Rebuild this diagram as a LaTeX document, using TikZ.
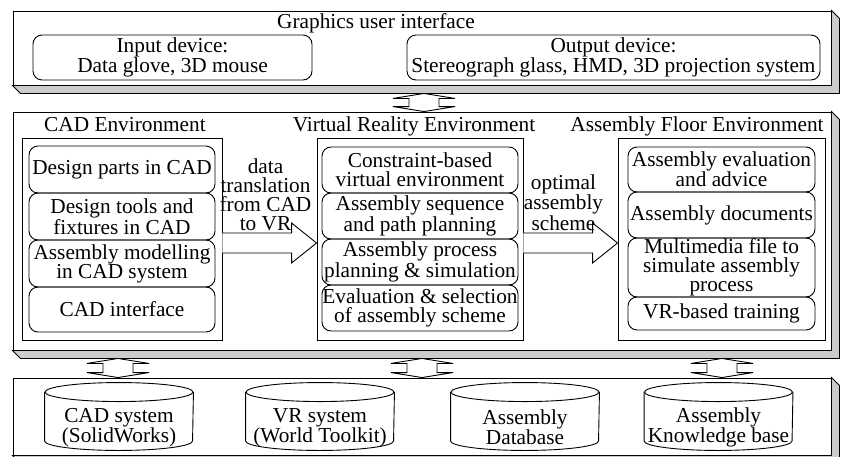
\documentclass[tikz,border=0pt]{standalone}
\usepackage{fontspec}
\setmainfont{Liberation Serif}
\usetikzlibrary{calc}

\tikzset{
  panel/.style={draw,fill=white,minimum width=818pt,inner sep=0pt},
  sideface/.style={draw,fill=gray!40},
  envbox/.style={draw,inner sep=0pt},
  item/.style={draw,rounded corners=9pt,align=center,inner sep=0pt},
  caption/.style={anchor=base,inner sep=0pt},
  arrowlbl/.style={align=center,inner sep=0pt,anchor=south},
  blockarr/.style={draw,fill=white},
  database/.style={minimum width=148pt,minimum height=67pt,inner sep=0pt},
  dbtext/.style={align=center,inner sep=0pt}
}

\newcommand{\sideof}[1]{\draw[sideface] (#1.north east) -- ++(8,8) -- ($(#1.south east)+(8,8)$) -- ($(#1.south west)+(8,8)$) -- (#1.south west) -- (#1.south east) -- cycle;}
\newcommand{\hblock}[2]{\draw[blockarr] ($(#1)+(0,-10)$) -- ($(#2)+(-25,-10)$) -- ($(#2)+(-25,-20)$) -- (#2) -- ($(#2)+(-25,20)$) -- ($(#2)+(-25,10)$) -- ($(#1)+(0,10)$);}
\newcommand{\vblock}[2]{\draw[blockarr] (#1) -- ($(#1)+(31,5)$) -- ($(#1)+(15,5)$) -- ($(#2)+(15,-5)$) -- ($(#2)+(31,-5)$) -- (#2) -- ($(#2)+(-31,-5)$) -- ($(#2)+(-15,-5)$) -- ($(#1)+(-15,5)$) -- ($(#1)+(-31,5)$) -- cycle;}
\newcommand{\drum}[1]{\draw ($(#1.north)+(0,9.5)$) ellipse [x radius=74,y radius=9.5];
  \draw ($(#1.north west)+(0,9.5)$) -- ($(#1.south west)+(0,-9.5)$) arc [start angle=180,end angle=0,x radius=74,y radius=9.5] -- ($(#1.north east)+(0,9.5)$);}

\begin{document}
\begin{tikzpicture}[x=1pt,y=-1pt,line width=0.9pt,font=\fontsize{21.3}{19}\selectfont]
\useasboundingbox (0,0) rectangle (841,456);

\node[panel,minimum height=74pt] (gui) at (422,48) {};
\sideof{gui}
\node[caption] (guititle) at (376,28) {Graphics user interface};
\node[item,minimum width=279pt,minimum height=45pt] (input) at (172.5,57.5) {Input device:\\Data glove, 3D mouse};
\node[item,minimum width=413pt,minimum height=45pt] (output) at (613.5,57.5) {Output device:\\Stereograph glass, HMD, 3D projection system};

\node[panel,minimum height=238pt] (main) at (422,231) {};
\sideof{main}
\node[caption] (cadtitle) at (125,131) {CAD Environment};
\node[caption] (vrtitle) at (414,131) {Virtual Reality Environment};
\node[caption] (aftitle) at (697,131) {Assembly Floor Environment};

\node[envbox,minimum width=200pt,minimum height=202pt] (cad) at (122,239) {};
\node[item,minimum width=186pt,minimum height=47pt] (cad1) at (122,169.5) {Design parts in CAD};
\node[item,minimum width=186pt,minimum height=47pt] (cad2) at (122,216.5) {Design tools and\\fixtures in CAD};
\node[item,minimum width=186pt,minimum height=47pt] (cad3) at (122,263.5) {Assembly modelling\\in CAD system};
\node[item,minimum width=186pt,minimum height=45pt] (cad4) at (122,309.5) {CAD interface};

\node[envbox,minimum width=206pt,minimum height=202pt] (vr) at (420,239) {};
\node[item,minimum width=196pt,minimum height=46pt] (vr1) at (420,170) {Constraint-based\\virtual environment};
\node[item,minimum width=196pt,minimum height=46pt] (vr2) at (420,216) {Assembly sequence\\and path planning};
\node[item,minimum width=196pt,minimum height=46pt] (vr3) at (420,262) {Assembly process\\planning \& simulation};
\node[item,minimum width=196pt,minimum height=46pt] (vr4) at (420,308) {Evaluation \& selection\\of assembly scheme};

\node[envbox,minimum width=207pt,minimum height=202pt] (af) at (721.5,239) {};
\node[item,minimum width=187pt,minimum height=45pt] (af1) at (721.5,169.5) {Assembly evaluation\\and advice};
\node[item,minimum width=187pt,minimum height=46pt] (af2) at (721.5,215) {Assembly documents};
\node[item,minimum width=187pt,minimum height=59pt] (af3) at (721.5,267.5) {Multimedia file to\\simulate assembly\\process};
\node[item,minimum width=187pt,minimum height=33pt] (af4) at (721.5,313.5) {VR-based training};

\coordinate (cadout) at ($(cad.east)+(0,4)$);
\coordinate (vrin) at ($(vr.west)+(0,4)$);
\coordinate (vrout) at ($(vr.east)+(0,4)$);
\coordinate (afin) at ($(af.west)+(0,4)$);
\hblock{cadout}{vrin}
\hblock{vrout}{afin}
\node[arrowlbl] (translbl) at ($(cadout)!0.5!(vrin)+(-4,-12)$) {data\\translation\\from CAD\\to VR};
\node[arrowlbl] (optlbl) at ($(vrout)!0.5!(afin)+(-7,-12)$) {optimal\\assembly\\scheme};

\node[panel,minimum height=77pt] (base) at (422,416.5) {};
\sideof{base}
\node[database] (cadsys) at (119,416.5) {};
\drum{cadsys}
\node[dbtext] (cadsystxt) at ($(cadsys)+(0,11)$) {CAD system\\(SolidWorks)};
\node[database] (vrsys) at (320,416.5) {};
\drum{vrsys}
\node[dbtext] (vrsystxt) at ($(vrsys)+(0,11)$) {VR system\\(World Toolkit)};
\node[database] (asmdb) at (525,416.5) {};
\drum{asmdb}
\node[dbtext] (asmdbtxt) at ($(asmdb)+(0,11)$) {Assembly\\Database};
\node[database] (asmkb) at (718.5,416.5) {};
\drum{asmkb}
\node[dbtext] (asmkbtxt) at ($(asmkb)+(0,11)$) {Assembly\\Knowledge base};

\coordinate (guibot) at ($(gui.south)+(2,8)$);
\coordinate (maintop) at (guibot |- main.north);
\vblock{guibot}{maintop}
\coordinate (mb1) at ($(main.south -| 118,0)+(0,8)$);
\coordinate (bt1) at (mb1 |- base.north);
\vblock{mb1}{bt1}
\coordinate (mb2) at ($(main.south -| 422,0)+(0,8)$);
\coordinate (bt2) at (mb2 |- base.north);
\vblock{mb2}{bt2}
\coordinate (mb3) at ($(main.south -| 722,0)+(0,8)$);
\coordinate (bt3) at (mb3 |- base.north);
\vblock{mb3}{bt3}

\end{tikzpicture}
\end{document}
